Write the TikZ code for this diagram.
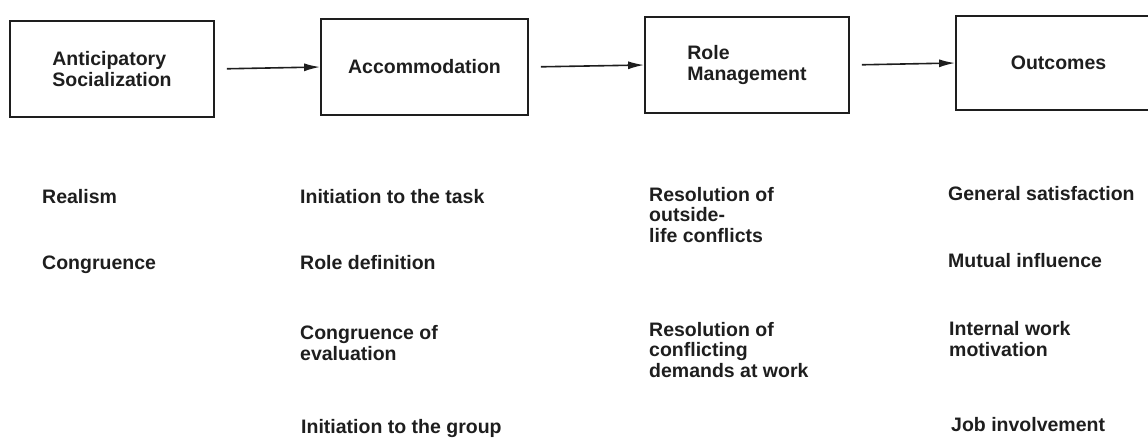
\documentclass[tikz,border=0pt]{standalone}
\usepackage{fontspec}
\setmainfont{Liberation Sans}
\usetikzlibrary{arrows.meta}
\definecolor{ink}{HTML}{1E1E1E}
\begin{document}
\begin{tikzpicture}[x=1pt,y=-1pt,
  stage/.style={draw=ink, line width=1.8pt, minimum height=96pt, inner sep=0pt,
    align=left, text=ink, font=\fontsize{19.5}{21}\selectfont\bfseries},
  % multi-line items: the base anchor sits on the last line
  item/.style={anchor=base west, inner sep=0pt, align=left, text=ink,
    font=\fontsize{19.5}{20.5}\selectfont\bfseries},
  flow/.style={draw=ink, line width=1.6pt, shorten <=12pt,
    -{Latex[length=16pt,width=8pt]}}]
\useasboundingbox (0,0) rectangle (1148,437);

% the four stages
\node[stage, minimum width=204pt] (s1) at (112,69) {Anticipatory\\Socialization};
\node[stage, minimum width=207pt] (s2) at (424.5,67) {Accommodation};
\node[stage, minimum width=204pt] (s3) at (747,65) {Role\\Management};
\node[stage, minimum width=205pt, minimum height=94pt] (s4) at (1058.5,63) {Outcomes};

\draw[flow] (s1.east) -- (s2.west);
\draw[flow] (s2.east) -- (s3.west);
\draw[flow] (s3.east) -- (s4.west);

% variables of each stage
\node[item] (a1) at (42,203) {Realism};
\node[item] (a2) at (42,269) {Congruence};

\node[item] (b1) at (300,203) {Initiation to the task};
\node[item] (b2) at (300,269) {Role definition};
\node[item] (b3) at (300,360) {Congruence of\\evaluation};
\node[item] (b4) at (301,433) {Initiation to the group};

\node[item] (c1) at (649,242) {Resolution of\\outside-\\life conflicts};
\node[item] (c2) at (649,377) {Resolution of\\conflicting\\demands at work};

\node[item] (d1) at (948,200) {General satisfaction};
\node[item] (d2) at (948,267) {Mutual influence};
\node[item] (d3) at (949,356) {Internal work\\motivation};
\node[item] (d4) at (951,431) {Job involvement};
\end{tikzpicture}
\end{document}
